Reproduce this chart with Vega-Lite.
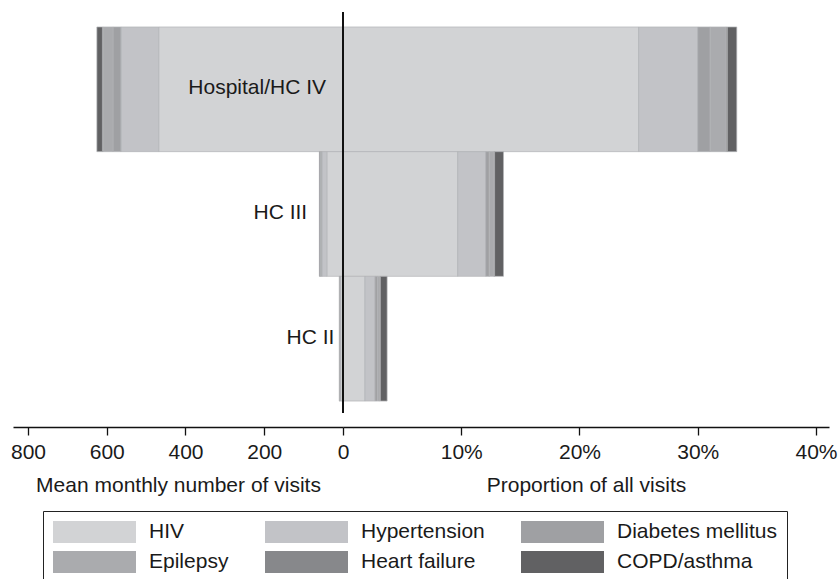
{
  "$schema": "https://vega.github.io/schema/vega-lite/v6.json",
  "background": "white",
  "padding": {"left": 10, "top": 11, "right": 0, "bottom": 0},
  "spacing": 0,
  "bounds": "flush",
  "config": {
    "view": {"stroke": null},
    "font": "Liberation Sans",
    "axis": {
      "grid": false,
      "domainColor": "#111111",
      "domainWidth": 1.3,
      "tickColor": "#111111",
      "tickWidth": 1.3,
      "tickSize": 8,
      "labelFont": "Liberation Sans",
      "labelFontSize": 21,
      "labelColor": "#1a1a1a",
      "labelPadding": 6,
      "labelFlush": false,
      "labelOverlap": false,
      "titleFont": "Liberation Sans",
      "titleFontSize": 21,
      "titleFontWeight": "normal",
      "titleColor": "#1a1a1a",
      "titlePadding": 12,
      "offset": 14
    },
    "legend": {
      "labelFont": "Liberation Sans"
    }
  },
  "datasets": {
    "visits": [
      {"facility": "Hospital/HC IV", "condition": "HIV", "rank": 1, "visits": 468, "share": 0.25},
      {"facility": "Hospital/HC IV", "condition": "Hypertension", "rank": 2, "visits": 96, "share": 0.05},
      {"facility": "Hospital/HC IV", "condition": "Diabetes mellitus", "rank": 3, "visits": 20, "share": 0.0105},
      {"facility": "Hospital/HC IV", "condition": "Epilepsy", "rank": 4, "visits": 25, "share": 0.0135},
      {"facility": "Hospital/HC IV", "condition": "Heart failure", "rank": 5, "visits": 2, "share": 0.001},
      {"facility": "Hospital/HC IV", "condition": "COPD/asthma", "rank": 6, "visits": 14, "share": 0.008},
      {"facility": "HC III", "condition": "HIV", "rank": 1, "visits": 41, "share": 0.097},
      {"facility": "HC III", "condition": "Hypertension", "rank": 2, "visits": 12.5, "share": 0.0237},
      {"facility": "HC III", "condition": "Diabetes mellitus", "rank": 3, "visits": 2, "share": 0.003},
      {"facility": "HC III", "condition": "Epilepsy", "rank": 4, "visits": 2.5, "share": 0.004},
      {"facility": "HC III", "condition": "Heart failure", "rank": 5, "visits": 0.5, "share": 0.0005},
      {"facility": "HC III", "condition": "COPD/asthma", "rank": 6, "visits": 1.5, "share": 0.0075},
      {"facility": "HC II", "condition": "HIV", "rank": 1, "visits": 6, "share": 0.0186},
      {"facility": "HC II", "condition": "Hypertension", "rank": 2, "visits": 2, "share": 0.0085},
      {"facility": "HC II", "condition": "Diabetes mellitus", "rank": 3, "visits": 0.4, "share": 0.002},
      {"facility": "HC II", "condition": "Epilepsy", "rank": 4, "visits": 0.4, "share": 0.0022},
      {"facility": "HC II", "condition": "Heart failure", "rank": 5, "visits": 0.1, "share": 0.0003},
      {"facility": "HC II", "condition": "COPD/asthma", "rank": 6, "visits": 0.5, "share": 0.0057}
    ],
    "labels": [
      {"facility": "Hospital/HC IV", "anchor": 43},
      {"facility": "HC III", "anchor": 91},
      {"facility": "HC II", "anchor": 22}
    ]
  },
  "hconcat": [
    {
      "width": 330,
      "height": 401,
      "layer": [
        {
          "data": {"name": "visits"},
          "mark": {"type": "bar", "stroke": "#b2b3b6", "strokeWidth": 0.7},
          "encoding": {
            "y": {
              "field": "facility", "type": "nominal",
              "sort": ["Hospital/HC IV", "HC III", "HC II"],
              "axis": null,
              "scale": {"paddingInner": 0, "paddingOuter": 0.108, "align": 0.556}
            },
            "x": {
              "field": "visits", "type": "quantitative", "stack": "zero",
              "scale": {"domain": [0, 838], "reverse": true, "nice": false},
              "axis": {"values": [0, 200, 400, 600, 800], "title": "Mean monthly number of visits"}
            },
            "order": {"field": "rank", "type": "quantitative", "sort": "ascending"},
            "color": {
              "field": "condition", "type": "nominal",
              "sort": ["HIV", "Hypertension", "Diabetes mellitus", "Epilepsy", "Heart failure", "COPD/asthma"],
              "scale": {
                "domain": ["HIV", "Hypertension", "Diabetes mellitus", "Epilepsy", "Heart failure", "COPD/asthma"],
                "range": ["#d2d3d5", "#c2c3c7", "#9fa0a3", "#aaabae", "#87888b", "#616163"]
              },
              "legend": {
                "orient": "none",
                "legendX": 30,
                "legendY": 499,
                "title": null,
                "columns": 3,
                "direction": "horizontal",
                "gridAlign": "each",
                "symbolType": "M-1,-1H6.545V1H-1Z",
                "symbolSize": 484,
                "symbolStrokeWidth": 0,
                "symbolOpacity": 1,
                "labelFontSize": 21,
                "labelColor": "#1a1a1a",
                "labelOffset": 74,
                "labelLimit": 400,
                "columnPadding": 36,
                "rowPadding": 8,
                "padding": 10,
                "strokeColor": "#222222"
              }
            }
          }
        },
        {
          "data": {"name": "labels"},
          "mark": {"type": "text", "align": "right", "baseline": "middle", "fontSize": 21, "color": "#1a1a1a", "dy": -1},
          "encoding": {
            "y": {"field": "facility", "type": "nominal", "sort": ["Hospital/HC IV", "HC III", "HC II"]},
            "x": {"field": "anchor", "type": "quantitative"},
            "text": {"field": "facility"}
          }
        }
      ]
    },
    {
      "width": 486,
      "height": 401,
      "layer": [
        {
          "data": {"name": "visits"},
          "mark": {"type": "bar", "stroke": "#b2b3b6", "strokeWidth": 0.7},
          "encoding": {
            "y": {
              "field": "facility", "type": "nominal",
              "sort": ["Hospital/HC IV", "HC III", "HC II"],
              "axis": null,
              "scale": {"paddingInner": 0, "paddingOuter": 0.108, "align": 0.556}
            },
            "x": {
              "field": "share", "type": "quantitative", "stack": "zero",
              "scale": {"domain": [0, 0.411], "nice": false},
              "axis": {"values": [0.1, 0.2, 0.3, 0.4], "format": ".0%", "title": "Proportion of all visits"}
            },
            "order": {"field": "rank", "type": "quantitative", "sort": "ascending"},
            "color": {
              "field": "condition", "type": "nominal",
              "sort": ["HIV", "Hypertension", "Diabetes mellitus", "Epilepsy", "Heart failure", "COPD/asthma"]
            }
          }
        },
        {
          "data": {"values": [{}]},
          "mark": {"type": "rule", "color": "#111111", "strokeWidth": 2},
          "encoding": {"x": {"datum": 0}}
        }
      ]
    }
  ]
}
